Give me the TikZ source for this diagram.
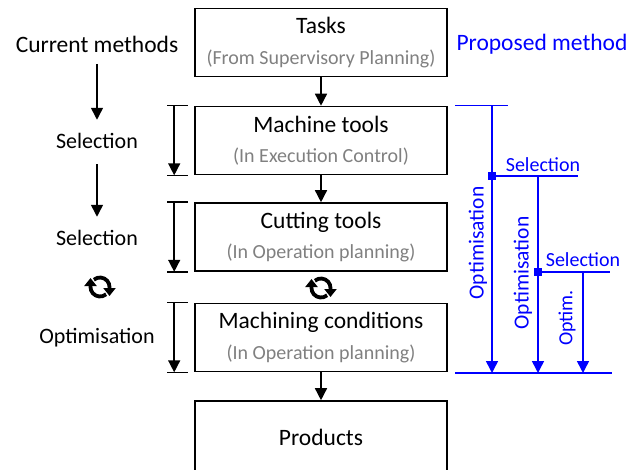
\documentclass[tikz,border=0pt]{standalone}
\usepackage{fontspec}
\setmainfont{Carlito}
\usetikzlibrary{arrows.meta}
\newcommand{\subtxt}[1]{{\color{gray}\fontsize{20}{24}\selectfont #1}}
\newcommand{\cycleicon}[1]{%
  \begin{scope}[shift={#1}, yscale=-1]
    \draw[icon] (-50:9.5) arc (-50:-180:9.5) -- ++(0,9);
    \draw[icon] (130:9.5) arc (130:0:9.5) -- ++(0,-9);
  \end{scope}}

\begin{document}
\begin{tikzpicture}[x=1pt,y=-1pt]

\tikzset{box/.style = {draw, line width=1.6pt, minimum width=252pt, minimum height=68pt, align=center, inner sep=0pt, font=\fontsize{23.5}{30.5}\selectfont}}
\tikzset{edge/.style = {-{Triangle[width=12pt,length=12pt]}, line width=1.5pt}}
\tikzset{bline/.style = {blue, line width=1.6pt}}
\tikzset{bedge/.style = {edge, blue}}
\tikzset{icon/.style = {line width=3.8pt, -{Triangle[width=12pt,length=8pt]}}}
\tikzset{lbl/.style = {font=\fontsize{22}{26}\selectfont}}
\tikzset{blbl/.style = {blue, font=\fontsize{20}{24}\selectfont}}
\tikzset{sq/.style = {fill=blue, minimum size=8pt, inner sep=0pt}}

\useasboundingbox (0,0) rectangle (642,469);

%boxes
\node[box] (tasks) at (321,42.5) {Tasks\\\subtxt{(From Supervisory Planning)}};
\node[box] (machine) at (321,140.5) {Machine tools\\\subtxt{(In Execution Control)}};
\node[box] (cutting) at (321,237) {Cutting tools\\\subtxt{(In Operation planning)}};
\node[box] (conditions) at (321,337.5) {Machining conditions\\\subtxt{(In Operation planning)}};
\node[box, minimum height=72pt] (products) at (321,437) {Products};
%edges
\draw[edge] (tasks) -- (machine);
\draw[edge] (machine) -- (cutting);
\draw[edge] (conditions) -- (products);
\cycleicon{(321,288)}
\foreach \b in {machine,cutting,conditions}{
  \draw[edge] ([xshift=-20pt]\b.north west) -- ([xshift=-20pt]\b.south west);
  \draw[line width=1.5pt] ([xshift=-27pt]\b.north west) -- ([xshift=-6pt]\b.north west);
  \draw[line width=1.5pt] ([xshift=-27pt]\b.south west) -- ([xshift=-6pt]\b.south west);
}

%current methods
\node[font=\fontsize{23.5}{28}\selectfont] (current) at (97,44) {Current methods};
\node[lbl] (sel1) at (97,141) {Selection};
\node[lbl] (sel2) at (97,238) {Selection};
\node[lbl] (opt) at (97,338) {Optimisation};
\draw[edge, shorten <=8pt, shorten >=10pt] (current) -- (sel1);
\draw[edge, shorten <=12pt, shorten >=10pt] (sel1) -- (sel2);
\cycleicon{(100,287)}

%proposed method
\node[blue, font=\fontsize{23.5}{28}\selectfont] (proposed) at (542,44) {Proposed method};
\coordinate (tl) at (455,105.5);
\coordinate (tr) at (508,105.5);
\coordinate (bl) at (455,373);
\coordinate (br) at (612,373);
\draw[bline] (tl) -- (tr);
\draw[bline] (bl) -- (br);
\node[sq] (j1) at (492,176) {};
\node[sq] (j2) at (538,272) {};
\coordinate (e1) at (578,176);
\coordinate (e2) at (610,272);
\draw[bline] (j1.center) -- (e1);
\draw[bline] (j2.center) -- (e2);
\draw[bedge] (492,105.5) -- (492,373);
\draw[bedge] (j1 -| 538,0) -- (538,373);
\draw[bedge] (583,272) -- (583,373);
\node[blbl] (bsel1) at (543,165) {Selection};
\node[blbl] (bsel2) at (583,260) {Selection};
\node[blue, rotate=90, font=\fontsize{21.5}{26}\selectfont] (bopt1) at (478,243) {Optimisation};
\node[blue, rotate=90, font=\fontsize{21.5}{26}\selectfont] (bopt2) at (523,273) {Optimisation};
\node[blbl, rotate=90] (bopt3) at (567,318) {Optim.};

\end{tikzpicture}
\end{document}
